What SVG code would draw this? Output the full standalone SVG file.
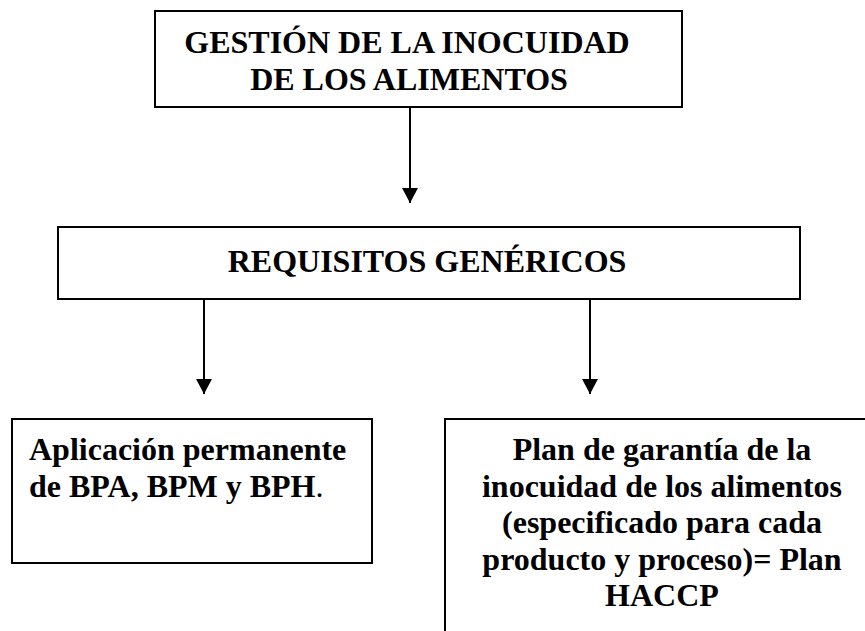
<svg xmlns="http://www.w3.org/2000/svg" width="865" height="631" viewBox="0 0 865 631">
<style>
.box{fill:#fff;stroke:#000;stroke-width:2}
.t{font-family:'Liberation Serif','Times New Roman','DejaVu Serif',serif;font-weight:700;font-size:32px;fill:#000}
.c{text-anchor:middle}
.edge{stroke:#000;stroke-width:2;fill:none}
</style>
<defs>
<marker id="ah" markerUnits="userSpaceOnUse" markerWidth="16" markerHeight="16" refX="15" refY="8" orient="auto">
<path d="M0,0 L15,8 L0,16 Z" fill="#000"/>
</marker>
</defs>
<rect width="865" height="631" fill="#fff"/>
<g id="connectors">
<line class="edge" x1="410" y1="107" x2="410" y2="203" marker-end="url(#ah)"/>
<line class="edge" x1="204" y1="299" x2="204" y2="394" marker-end="url(#ah)"/>
<line class="edge" x1="590" y1="299" x2="590" y2="394" marker-end="url(#ah)"/>
</g>
<g id="gestion">
<rect class="box" x="155" y="11" width="527" height="96"/>
<text class="t c" font-family="Liberation Serif, serif" x="407" y="53">GESTIÓN DE LA INOCUIDAD</text>
<text class="t c" font-family="Liberation Serif, serif" x="409" y="90">DE LOS ALIMENTOS</text>
</g>
<g id="requisitos">
<rect class="box" x="58" y="227" width="742" height="72"/>
<text class="t c" font-family="Liberation Serif, serif" x="427" y="272">REQUISITOS GENÉRICOS</text>
</g>
<g id="aplicacion">
<rect class="box" x="12" y="419" width="360" height="144"/>
<text class="t" font-family="Liberation Serif, serif" x="29" y="460">Aplicación permanente</text>
<text class="t" font-family="Liberation Serif, serif" x="29" y="497">de BPA, BPM y BPH<tspan font-weight="normal">.</tspan></text>
</g>
<g id="plan">
<rect class="box" x="445" y="419" width="440" height="240"/>
<text class="t c" font-family="Liberation Serif, serif" x="662" y="460">Plan de garantía de la</text>
<text class="t c" font-family="Liberation Serif, serif" x="662" y="497">inocuidad de los alimentos</text>
<text class="t c" font-family="Liberation Serif, serif" x="662" y="533">(especificado para cada</text>
<text class="t c" font-family="Liberation Serif, serif" x="662" y="570">producto y proceso)= Plan</text>
<text class="t c" font-family="Liberation Serif, serif" x="662" y="606">HACCP</text>
</g>
</svg>
